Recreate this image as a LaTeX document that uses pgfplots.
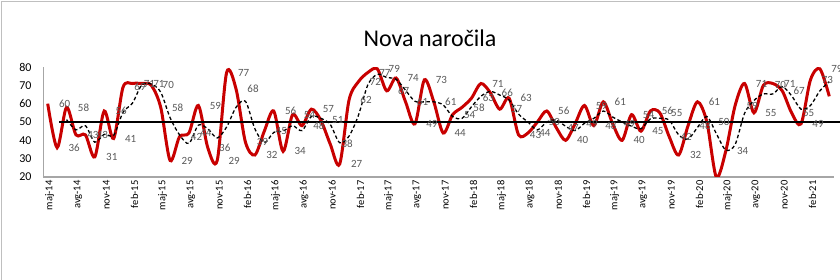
\documentclass[border=0pt]{standalone}
\usepackage{fontspec}
\setmainfont{Carlito}
\usepackage{pgfplots}
\usepackage{pgfplotstable}
\pgfplotsset{compat=1.18}
\definecolor{redl}{HTML}{C80000}
\definecolor{lbl}{HTML}{595959}
\definecolor{axg}{HTML}{A6A6A6}
\definecolor{frm}{HTML}{BFBFBF}

\pgfplotstableread{
i v
0 60
1 36
2 58
3 43
4 43
5 31
6 56
7 41
8 69
9 71
10 71
11 70
12 58
13 29
14 42
15 44
16 59
17 36
18 29
19 77
20 68
21 39
22 32
23 45
24 56
25 34
26 54
27 48
28 57
29 51
30 38
31 27
32 62
33 72
34 77
35 79
36 67
37 74
38 61
39 49
40 73
41 61
42 44
43 54
44 58
45 63
46 71
47 66
48 57
49 63
50 43
51 44
52 50
53 56
54 47
55 40
56 49
57 59
58 48
59 61
60 49
61 40
62 54
63 45
64 56
65 55
66 42
67 32
68 48
69 61
70 50
71 20
72 34
73 59
74 71
75 55
76 70
77 71
78 67
79 55
80 49
81 73
82 79
83 64
}\reddata

\pgfplotstableread{
i v
2 51.3
3 45.7
4 48
5 39
6 43.3
7 42.7
8 55.3
9 60.3
10 70.3
11 70.7
12 66.3
13 52.3
14 43
15 38.3
16 48.3
17 46.3
18 41.3
19 47.3
20 58
21 61.3
22 46.3
23 38.7
24 44.3
25 45
26 48
27 45.3
28 53
29 52
30 48.7
31 38.7
32 42.3
33 53.7
34 70.3
35 76
36 74.3
37 73.3
38 67.3
39 61.3
40 61
41 61
42 59.3
43 53
44 52
45 58.3
46 64
47 66.7
48 64.7
49 62
50 54.3
51 50
52 45.7
53 50
54 51
55 47.7
56 45.3
57 49.3
58 52
59 56
60 52.7
61 50
62 47.7
63 46.3
64 51.7
65 52
66 51
67 43
68 40.7
69 47
70 53
71 43.7
72 34.7
73 37.7
74 54.7
75 61.7
76 65.3
77 65.3
78 69.3
79 64.3
80 57
81 59
82 67
83 72
}\madata

\begin{document}
\begin{tikzpicture}
\begin{axis}[
  name=main,
  at={(0pt,0pt)}, anchor=south west,
  width=791pt, height=110pt, scale only axis,
  xmin=-0.5, xmax=83.5, ymin=20, ymax=80,
  axis x line=bottom, axis y line=left,
  x axis line style={axg, line width=1.3pt, -},
  y axis line style={axg, line width=0.8pt, -},
  xtick={0,3,...,81},
  xticklabels={maj-14,avg-14,nov-14,feb-15,maj-15,avg-15,nov-15,feb-16,maj-16,avg-16,nov-16,feb-17,maj-17,avg-17,nov-17,feb-18,maj-18,avg-18,nov-18,feb-19,maj-19,avg-19,nov-19,feb-20,maj-20,avg-20,nov-20,feb-21},
  xticklabel style={rotate=90, anchor=east, font=\fontsize{10.5}{12}\selectfont, text=black, yshift=-2pt},
  ytick={20,30,...,80},
  yticklabel style={font=\fontsize{12}{14}\selectfont, text=black, xshift=-8pt},
  major tick length=0pt,
  /pgf/number format/assume math mode=true,
  clip mode=individual,
]
\addplot[redl, line width=3pt, smooth, mark=none] table[x=i, y=v] {\reddata};
\addplot[black, line width=1.3pt, dash pattern=on 3.5pt off 2.5pt, smooth, mark=none] table[x=i, y=v] {\madata};
\end{axis}
\begin{axis}[
  at={(main.south west)}, anchor=south west,
  width=791pt, height=110pt, scale only axis,
  xmin=-0.5, xmax=83.5, ymin=20, ymax=80,
  hide axis, clip=false,
  /pgf/number format/assume math mode=true,
]
\addplot[black, line width=1.5pt, mark=none] coordinates {(1.2,50) (84.2,50)};
\addplot[draw=none, mark=none, point meta=y,
  skip coords between index={71}{72},
  nodes near coords={\pgfmathprintnumber[fixed, precision=0]{\pgfplotspointmeta}},
  every node near coord/.style={anchor=center, xshift=17pt, inner sep=0pt, text=lbl, font=\fontsize{11}{12}\selectfont}]
  table[x=i, y=v] {\reddata};
\end{axis}
\pgfresetboundingbox
\path[use as bounding box] ([xshift=-43pt,yshift=-103pt]main.south west) rectangle ([xshift=797pt,yshift=177pt]main.south west);
\draw[frm, line width=1pt] ([xshift=-41.5pt,yshift=-103pt]main.south west) -- ([xshift=-41.5pt,yshift=175.5pt]main.south west) -- ([xshift=797pt,yshift=175.5pt]main.south west);
\node[font=\fontsize{24}{28}\selectfont, anchor=center] at ([xshift=387pt,yshift=139pt]main.south west) {Nova naročila};
\end{tikzpicture}
\end{document}
